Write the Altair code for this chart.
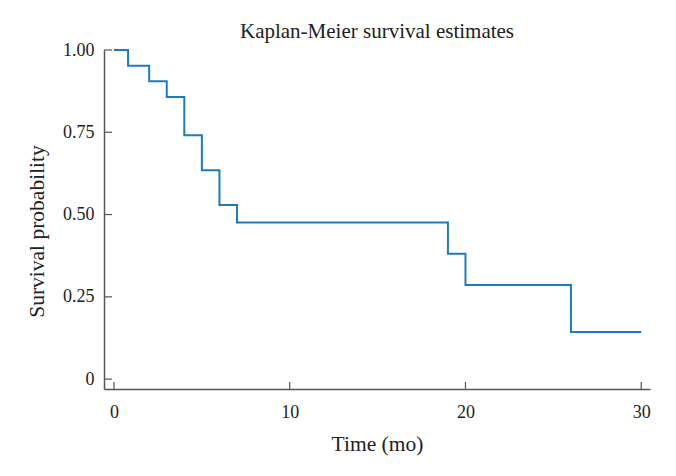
import altair as alt
import pandas as pd

times = [0, 0.8, 2, 3, 4, 5, 6, 7, 19, 20, 26, 30]
surv = [1.0, 0.952, 0.905, 0.857, 0.741, 0.635, 0.529, 0.476, 0.381, 0.286, 0.143, 0.143]
x_ticks = [0, 10, 20, 30]
y_ticks = [0, 0.25, 0.5, 0.75, 1.0]

df = pd.DataFrame({"t": times, "s": surv})
xt = pd.DataFrame({"v": x_ticks})
yt = pd.DataFrame({"v": y_ticks})

FONT = "Liberation Serif"
W, H = 546, 339
xscale = alt.Scale(domain=[-0.57, 30.5], nice=False, zero=False)
yscale = alt.Scale(domain=[-0.03, 1.0], nice=False, zero=False)

line = alt.Chart(df).mark_line(interpolate="step-after", color="#1f7bbf", strokeWidth=2).encode(
    x=alt.X("t:Q", scale=xscale, title="Time (mo)",
            axis=alt.Axis(values=x_ticks, tickSize=0, labelPadding=14, titlePadding=12,
                          grid=False, format="d")),
    y=alt.Y("s:Q", scale=yscale, title="Survival probability",
            axis=alt.Axis(values=y_ticks, tickSize=0, labelPadding=10, titlePadding=14,
                          titleY=181, grid=False,
                          labelExpr="datum.value == 0 ? '0' : format(datum.value, '.2f')")),
)

xtick = alt.Chart(xt).mark_rule(color="#555555", strokeWidth=1.2).encode(
    x=alt.X("v:Q", scale=xscale), y=alt.value(H), y2=alt.value(H - 7))
ytick = alt.Chart(yt).mark_rule(color="#555555", strokeWidth=1.2).encode(
    y=alt.Y("v:Q", scale=yscale), x=alt.value(0), x2=alt.value(8))

chart = alt.layer(line, xtick, ytick).properties(
    width=W, height=H,
    title=alt.TitleParams("Kaplan-Meier survival estimates", font=FONT, fontSize=21,
                          fontWeight="normal", color="#222222", offset=-1),
    autosize=alt.AutoSizeParams(type="none"),
    padding={"left": 96, "top": 42, "right": 18, "bottom": 79},
).configure_view(stroke=None).configure_axis(
    labelFont=FONT, titleFont=FONT, labelFontSize=18, titleFontSize=21.5,
    labelColor="#222222", titleColor="#222222", titleFontWeight="normal",
    domainColor="#555555", domainWidth=1.5,
)

chart.save("out.html", embed_options={"renderer": "svg", "actions": False})
